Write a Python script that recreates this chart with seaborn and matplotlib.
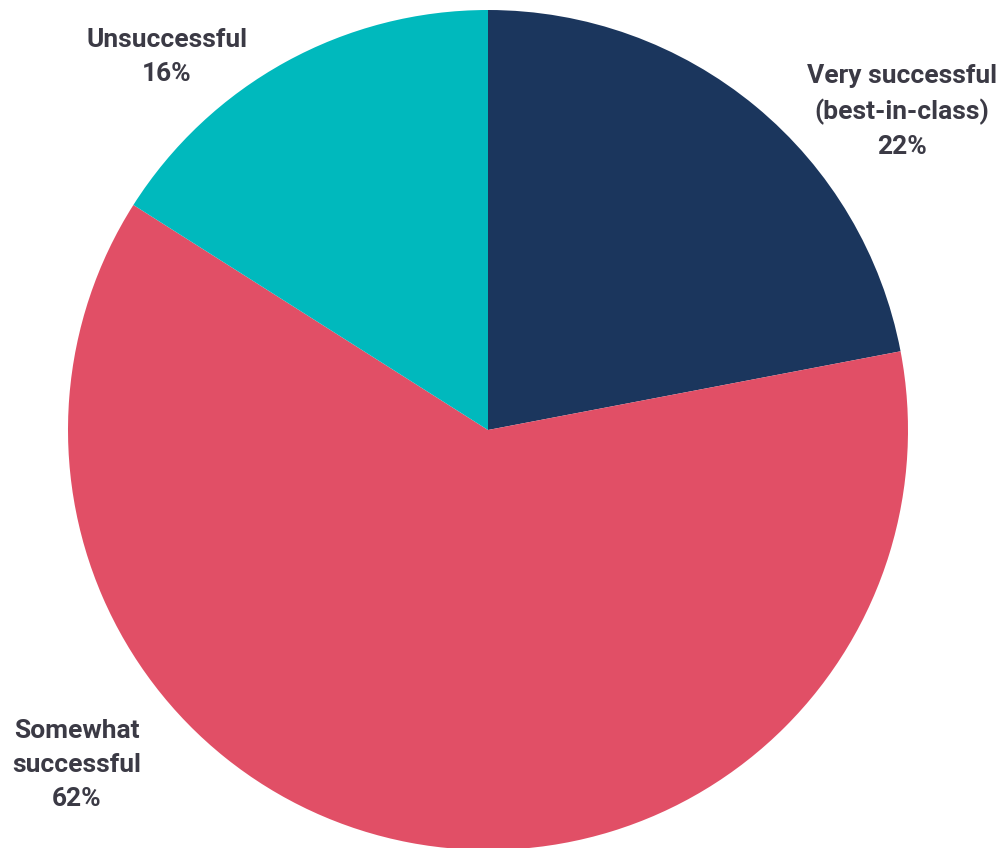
import matplotlib
matplotlib.use("Agg")
import matplotlib.pyplot as plt
import seaborn as sns

# 数据
categories = ["Very successful\n(best-in-class)", "Somewhat\nsuccessful", "Unsuccessful"]
shares = [22, 62, 16]
colors = ["#1b365d", "#e14f66", "#00b9bd"]

# 标签位置 (以半径为单位)
label_pos = [(0.986, 0.758), (-0.979, -0.798), (-0.764, 0.888)]

sns.set_theme(style="white")
plt.rcParams["font.family"] = ["Roboto", "DejaVu Sans"]

fig = plt.figure(figsize=(10.01, 8.48), dpi=100)
r_px = 420
cx, cy = 488, 848 - 430
ax = fig.add_axes([(cx - r_px) / 1001, (cy - r_px) / 848, 2 * r_px / 1001, 2 * r_px / 848])

ax.pie(shares, colors=colors, startangle=90, counterclock=False,
       radius=1, wedgeprops=dict(linewidth=0))
ax.set_xlim(-1, 1)
ax.set_ylim(-1, 1)
ax.set_aspect("equal")
ax.axis("off")

for name, val, (x, y) in zip(categories, shares, label_pos):
    ax.text(x, y, f"{name}\n{val}%", ha="center", va="center",
            fontsize=19, fontweight="bold", color="#3b3a45",
            linespacing=1.53, clip_on=False)

fig.savefig("out.png", dpi=100)
